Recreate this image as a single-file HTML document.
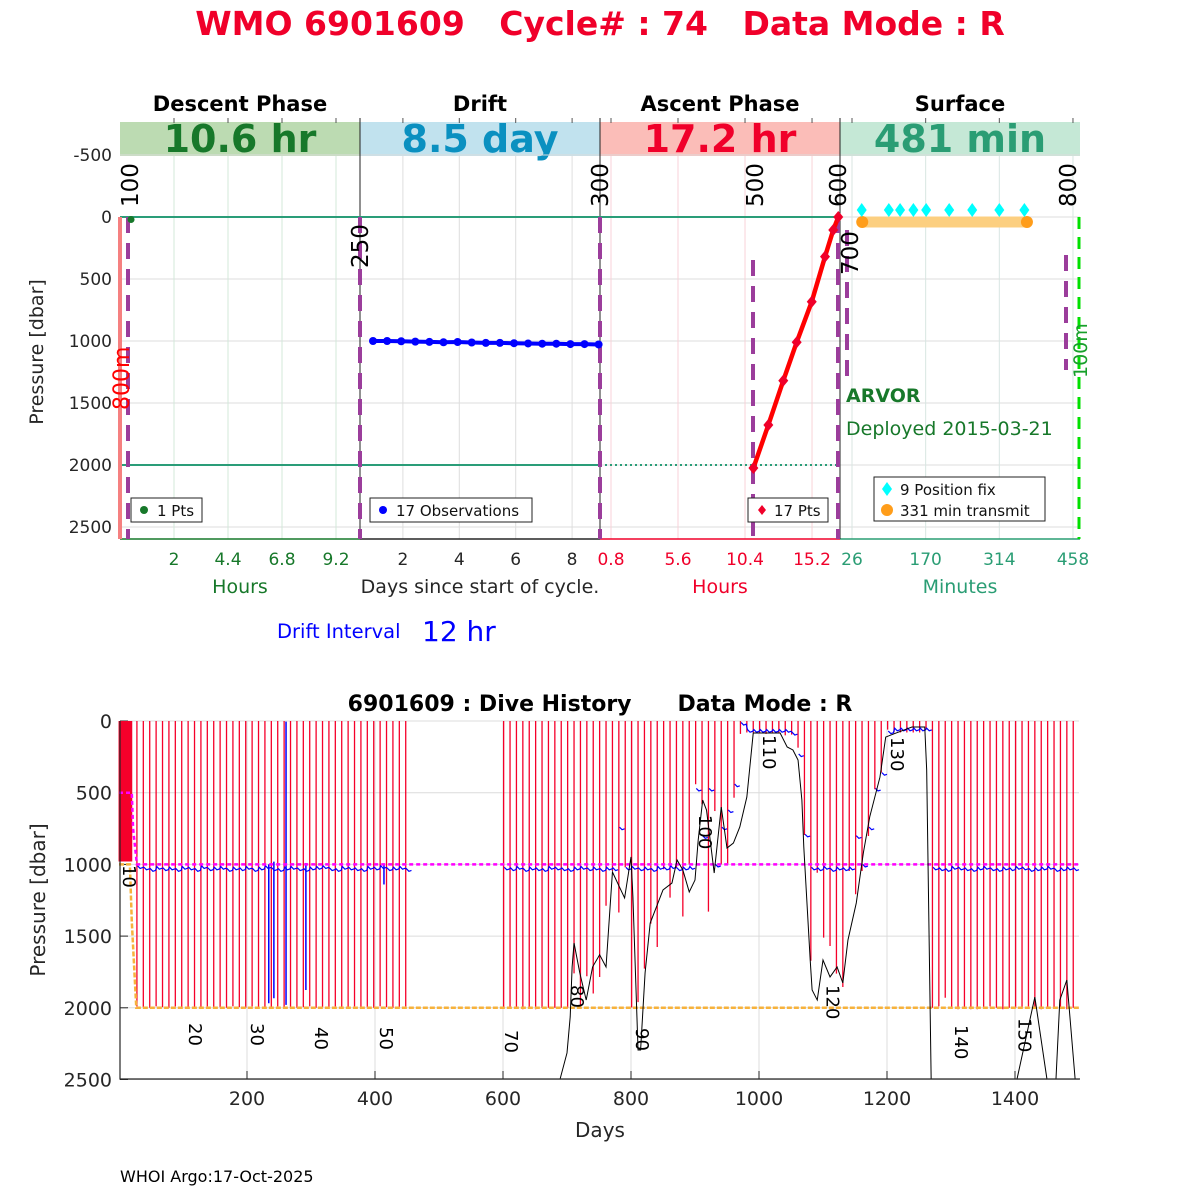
<!DOCTYPE html>
<html><head><meta charset="utf-8">
<style>
html,body{margin:0;padding:0;background:#fff;width:1200px;height:1200px;overflow:hidden}
svg{display:block;font-family:"DejaVu Sans","Liberation Sans",sans-serif}
text{white-space:pre}
</style></head>
<body>
<svg id="s" width="1200" height="1200" viewBox="0 0 1200 1200">
<rect x="0" y="0" width="1200" height="1200" fill="#fff"/>
<text x="600" y="35" text-anchor="middle" font-size="33" font-weight="bold" fill="#f0002a">WMO 6901609   Cycle# : 74   Data Mode : R</text>
<g id="topPanel"></g>
<g id="botPanel"></g>
<text x="120" y="1182" font-size="16" fill="#000">WHOI Argo:17-Oct-2025</text>
</svg>
<script>
// ---------- TOP PANEL DATA ----------
var yTicksTop = [-500, 0, 500, 1000, 1500, 2000, 2500];
var descentTicks = [2, 4.4, 6.8, 9.2];
var driftTicks = [2, 4, 6, 8];
var ascentTicks = [0.8, 5.6, 10.4, 15.2];
var surfaceTicks = [26, 170, 314, 458];
var descentHours = [0.09];
var descentPres = [20];
var driftDays = [0.94,1.44,1.94,2.44,2.94,3.44,3.94,4.44,4.94,5.44,5.94,6.44,6.94,7.44,7.94,8.44,8.94];
var driftPres = [1000,1000,1002,1005,1007,1010,1008,1012,1015,1015,1018,1020,1022,1022,1025,1025,1028];
var ascentHours = [11.0,12.07,13.14,14.10,15.18,16.13,16.72,17.08];
var ascentPres = [2024,1677,1320,1010,683,320,105,0];
var fixMinutes = [45,98,120,146,171,216,261,314,363];
var fixPres = [-56,-56,-56,-56,-56,-56,-56,-56,-56];
var transmitMinutes = [46,368];
var transmitPres = [40,40];

// ---------- BOTTOM PANEL DATA ----------
var xTicksBot = [200,400,600,800,1000,1200,1400];
var yTicksBot = [0,500,1000,1500,2000,2500];
var cycleDays = [1,3,5,7,9,11,13,15,17,19,
 28,38,48,58,68,78,88,98,108,118,128,138,148,158,168,178,188,198,208,218,228,238,248,258,268,278,288,298,308,318,328,338,348,358,368,378,388,398,408,418,428,438,448,
 601,611,621,631,641,651,661,671,681,691,701,711,721,731,741,751,761,771,781,791,801,811,821,831,841,851,861,871,881,891,901,911,921,931,941,951,961,971,981,991,1001,1011,1021,1031,1041,1051,1061,1071,1081,1091,1101,1111,1121,1131,1141,1151,1161,1171,1181,1191,1201,1211,1221,1231,1241,1251,1261,1271,1281,1291,1301,1311,1321,1331,1341,1351,1361,1371,1381,1391,1401,1411,1421,1431,1441,1451,1461,1471,1481,1491];
var profileBottom = [980,980,980,980,980,980,980,980,980,980,
 1990,1995,2000,1990,1995,2000,1990,1995,2000,2000,1995,1990,2000,1995,2000,1990,1995,2000,1990,2000,1995,2000,1990,1995,2000,2000,1995,1990,2000,1995,2000,1990,1995,2000,1990,2000,1995,2000,1990,1995,2000,1995,1990,
 2000,2000,2000,2010,2000,2010,2000,2000,2000,2000,2000,1760,1990,1780,1900,1785,1288,1046,1335,1020,1997,1960,1727,1413,1576,1034,1232,1025,1363,1000,441,581,1329,628,1000,1000,535,90,80,80,80,90,80,80,100,95,186,795,1672,1058,1511,1569,1762,1855,1046,1208,1046,802,476,360,60,80,80,80,80,80,60,2000,1990,1930,2000,2010,2000,2010,2010,2000,1990,2000,2010,2000,2000,2000,1990,2000,2010,2000,2000,2000,2010,2000];
var driftBot = [null,null,null,null,null,null,null,null,null,null,
 1010,1020,1030,1015,1025,1020,1030,1015,1020,1030,1010,1025,1020,1015,1030,1020,1025,1015,1030,1020,1010,1025,1030,1020,1015,1025,1030,1020,1015,1010,1025,1030,1015,1020,1025,1030,1015,1020,1010,1025,1020,1015,1030,
 1020,1025,1015,1030,1020,1025,1030,1015,1020,1025,1030,1020,1015,1025,1020,1030,1020,1025,740,1020,1015,1025,1020,1030,1015,1020,1010,1025,1020,1015,470,800,470,1000,740,620,440,10,60,60,60,60,60,60,60,80,230,790,1020,1025,1015,1030,1020,1025,1020,800,1000,740,470,360,70,50,50,50,50,50,50,1020,1025,1030,1015,1020,1025,1030,1020,1015,1025,1030,1020,1025,1015,1020,1030,1025,1020,1015,1030,1025,1020,1025,1020];
var spikeDays = [234,242,261,292,414];
var spikeTop = [1000,981,4,990,1000];
var spikeBottom = [1968,1933,1980,1876,1140];
var parkDay = [0,20,22,28,1500];
var parkPres = [500,500,750,1000,1000];
var profDay = [0,17,20,27,1500];
var profPres = [1000,1000,1400,2000,2000];
var bathyDays1 = [689,700,705,708,711,720,730,740,751,761,771,790,800,803,811,815,822,830,850,864,872,881,891,900,905,912,918,930,941,950,960,970,981,991,1033,1044,1053,1061,1067,1070,1080,1083,1091,1100,1111,1122,1131,1139,1152,1163,1173,1189,1198,1214,1239,1259,1262,1266,1269];
var bathyPres1 = [2500,2315,2063,1715,1548,1757,1946,1715,1630,1715,1053,1234,948,1227,2294,2294,1757,1409,1178,1130,969,1039,1192,1109,830,551,621,1060,600,886,851,739,530,84,84,181,202,272,551,879,1667,1876,1946,1667,1785,1715,1827,1527,1269,921,669,391,112,84,42,42,342,1576,2500];
var bathyDays2 = [1403,1431,1450];
var bathyPres2 = [2500,1925,2500];
var bathyDays3 = [1464,1470,1481,1494];
var bathyPres3 = [2500,1946,1806,2500];
var labelCycles = [10,20,30,40,50,70,80,90,100,110,120,130,140,150];
var labelDays = [17,120,217,317,419,614,717,819,917,1017,1116,1217,1317,1416];
var labelPres = [1004,2106,2106,2134,2134,2155,1841,2141,655,98,1841,112,2120,2071];

var NS = "http://www.w3.org/2000/svg";
function mk(parent, tag, attrs, txt){
  var e = document.createElementNS(NS, tag);
  for (var k in attrs) e.setAttribute(k, attrs[k]);
  if (txt !== undefined) e.textContent = txt;
  parent.appendChild(e);
  return e;
}
var topG = document.getElementById('topPanel');
var botG = document.getElementById('botPanel');

function yT(p){ return 217 + p*0.124; }
function xDesc(h){ return 129 + h*22.5; }
function xDrift(d){ return 346.5 + d*28.2; }
function xAsc(h){ return 611 + (h-0.8)*13.96; }
function xSurf(m){ return 852 + (m-26)/1.955; }

var el;
var heads = [[120,'#bcdbb2','10.6 hr','#17782a','Descent Phase','descent'],[360,'#c1e2ee','8.5 day','#0a90c0','Drift','drift'],[600,'#fbbdb8','17.2 hr','#f0002a','Ascent Phase','ascent'],[840,'#c5e8d6','481 min','#2a9d74','Surface','surface']];
heads.forEach(function(h){
  el = mk(topG,'rect',{x:h[0],y:122,width:240,height:34,fill:h[1]});
  
  
  el = mk(topG,'text',{x:h[0]+120,y:152,'text-anchor':'middle','font-size':38,'font-weight':'bold',fill:h[3]},h[2]);
  
  
  el = mk(topG,'text',{x:h[0]+120,y:111,'text-anchor':'middle','font-size':21,'font-weight':'bold',fill:'#000'},h[4]);
  
  
});
yTicksTop.forEach(function(t){
  el = mk(topG,'line',{x1:120,x2:1080,y1:yT(t),y2:yT(t),stroke:'#dcdcdc','stroke-width':1});
  
  
  el = mk(topG,'text',{x:112,y:yT(t)+6,'text-anchor':'end','font-size':17,fill:'#262626'},String(t));
  
  
});
function vgrid(ticks, fx, gcol, tcol, nm){
  ticks.forEach(function(t){
    var x = fx(t);
    el = mk(topG,'line',{x1:x,x2:x,y1:156,y2:539,stroke:gcol,'stroke-width':1});
    
    
    el = mk(topG,'line',{x1:x,x2:x,y1:118,y2:123,stroke:'#555','stroke-width':1});
    
    
    el = mk(topG,'text',{x:x,y:565,'text-anchor':'middle','font-size':17,fill:tcol},String(t));
    
    
  });
}
vgrid(descentTicks, xDesc, '#d3e8da', '#17782a', 'descent');
vgrid(driftTicks, xDrift, '#dedede', '#262626', 'drift');
vgrid(ascentTicks, xAsc, '#f8d2d8', '#f0002a', 'ascent');
vgrid(surfaceTicks, xSurf, '#d8e6e2', '#2a9d74', 'surface');
[[120,'#17782a'],[360,'#262626'],[600,'#f0002a'],[840,'#2a9d74']].forEach(function(s){
  el = mk(topG,'line',{x1:s[0],x2:s[0]+240,y1:539,y2:539,stroke:s[1],'stroke-width':1.5});
  
  
});
[360,600,840].forEach(function(x){
  el = mk(topG,'line',{x1:x,x2:x,y1:118,y2:539,stroke:'#222','stroke-width':1});
  
  
});
el = mk(topG,'line',{x1:120,x2:840,y1:yT(0),y2:yT(0),stroke:'#2a9d78','stroke-width':2});


el = mk(topG,'line',{x1:120,x2:600,y1:yT(2000),y2:yT(2000),stroke:'#2a9d78','stroke-width':2});


el = mk(topG,'line',{x1:600,x2:840,y1:yT(2000),y2:yT(2000),stroke:'#2a9d78','stroke-width':2,'stroke-dasharray':'2,3'});


el = mk(topG,'line',{x1:120,x2:120,y1:217,y2:539,stroke:'#f58080','stroke-width':4});


el = mk(topG,'line',{x1:1079,x2:1079,y1:217,y2:539,stroke:'#00e000','stroke-width':3,'stroke-dasharray':'12,8'});


[[128,217,539],[360,217,539],[600,217,539],[753,260,539],[838,217,539],[847,230,380],[1066,255,370]].forEach(function(d){
  el = mk(topG,'line',{x1:d[0],x2:d[0],y1:d[1],y2:d[2],stroke:'#9b3d9b','stroke-width':4,'stroke-dasharray':'16,10'});
  
  
});
[['100',138,207],['250',368,268],['300',608,207],['500',763,207],['600',846,207],['700',858,275],['800',1076,207]].forEach(function(r){
  el = mk(topG,'text',{x:r[1],y:r[2],'font-size':23,fill:'#000',transform:'rotate(-90 '+r[1]+' '+r[2]+')'},r[0]);
  
  
});
el = mk(topG,'text',{x:129,y:410,'font-size':22,fill:'#ff0000',transform:'rotate(-90 129 410)'},'800m');


el = mk(topG,'text',{x:1087,y:378,'font-size':19,fill:'#17a02a',transform:'rotate(-90 1087 378)'},'100m');



descentHours.forEach(function(h,i){
  el = mk(topG,'circle',{cx:xDesc(h),cy:yT(descentPres[i]),r:3.5,fill:'#17782a'});
  
  
});
var dp = driftDays.map(function(d,i){return xDrift(d)+','+yT(driftPres[i]);}).join(' ');
el = mk(topG,'polyline',{points:dp,fill:'none',stroke:'#0000ff','stroke-width':4});


driftDays.forEach(function(d,i){
  el = mk(topG,'circle',{cx:xDrift(d),cy:yT(driftPres[i]),r:4,fill:'#0000ff'});
  
  
});
var ap = ascentHours.map(function(h,i){return xAsc(h)+','+yT(ascentPres[i]);}).join(' ');
el = mk(topG,'polyline',{points:ap,fill:'none',stroke:'#ff0000','stroke-width':4.5});


ascentHours.forEach(function(h,i){
  var x = xAsc(h), y = yT(ascentPres[i]);
  el = mk(topG,'path',{d:'M'+x+' '+(y-6)+'L'+(x+5)+' '+y+'L'+x+' '+(y+6)+'L'+(x-5)+' '+y+'Z',fill:'#f0002a'});
  
  
});
el = mk(topG,'line',{x1:xSurf(transmitMinutes[0]),x2:xSurf(transmitMinutes[1]),y1:yT(transmitPres[0]),y2:yT(transmitPres[1]),stroke:'#fccf80','stroke-width':11});


transmitMinutes.forEach(function(m,i){
  el = mk(topG,'circle',{cx:xSurf(m),cy:yT(transmitPres[i]),r:6,fill:'#ff9d1a'});
  
  
});
fixMinutes.forEach(function(m,i){
  var x = xSurf(m), y = yT(fixPres[i]);
  el = mk(topG,'path',{d:'M'+x+' '+(y-7)+'L'+(x+5)+' '+y+'L'+x+' '+(y+7)+'L'+(x-5)+' '+y+'Z',fill:'#00ffff'});
  
  
});
function legBox(x,y,w,h,nm){
  el = mk(topG,'rect',{x:x,y:y,width:w,height:h,fill:'#fff',stroke:'#222','stroke-width':1});
  
  
}
legBox(131,498,71,24,'descent-legend');
el = mk(topG,'circle',{cx:144,cy:510,r:4,fill:'#17782a'});  
el = mk(topG,'text',{x:157,y:516,'font-size':15,fill:'#111'},'1 Pts');  
legBox(370,498,162,24,'drift-legend');
el = mk(topG,'circle',{cx:383,cy:510,r:4,fill:'#0000ff'});  
el = mk(topG,'text',{x:396,y:516,'font-size':15,fill:'#111'},'17 Observations');  
legBox(748,498,80,24,'ascent-legend');
el = mk(topG,'path',{d:'M762 505L766 510L762 515L758 510Z',fill:'#f0002a'});  
el = mk(topG,'text',{x:774,y:516,'font-size':15,fill:'#111'},'17 Pts');  
legBox(874,477,171,44,'surface-legend');
el = mk(topG,'path',{d:'M887 482L892 489L887 496L882 489Z',fill:'#00ffff'});  
el = mk(topG,'text',{x:900,y:495,'font-size':15,fill:'#111'},'9 Position fix');  
el = mk(topG,'circle',{cx:887,cy:510,r:6,fill:'#ff9d1a'});  
el = mk(topG,'text',{x:900,y:516,'font-size':15,fill:'#111'},'331 min transmit');  
el = mk(topG,'text',{x:846,y:402,'font-size':19,'font-weight':'bold',fill:'#17782a'},'ARVOR');  
el = mk(topG,'text',{x:846,y:435,'font-size':19,fill:'#17782a'},'Deployed 2015-03-21');  
el = mk(topG,'text',{x:43,y:352,'font-size':19,fill:'#262626','text-anchor':'middle',transform:'rotate(-90 43 352)'},'Pressure [dbar]');  
el = mk(topG,'text',{x:240,y:593,'font-size':19,fill:'#17782a','text-anchor':'middle'},'Hours');  
el = mk(topG,'text',{x:480,y:593,'font-size':19,fill:'#262626','text-anchor':'middle'},'Days since start of cycle.');  
el = mk(topG,'text',{x:720,y:593,'font-size':19,fill:'#f0002a','text-anchor':'middle'},'Hours');  
el = mk(topG,'text',{x:960,y:593,'font-size':19,fill:'#2a9d74','text-anchor':'middle'},'Minutes');  
el = mk(topG,'text',{x:277,y:638,'font-size':19.5,fill:'#0000ff'},'Drift Interval');  
el = mk(topG,'text',{x:422,y:641,'font-size':28,fill:'#0000ff'},'12 hr');  

// ---------- BOTTOM PANEL ----------
function xB(d){ return 119 + d*0.64; }
function yB(p){ return 721 + p*0.1434; }
xTicksBot.forEach(function(t){
  el = mk(botG,'line',{x1:xB(t),x2:xB(t),y1:721,y2:1079,stroke:'#dcdcdc','stroke-width':1});
   
  el = mk(botG,'line',{x1:xB(t),x2:xB(t),y1:1071,y2:1079,stroke:'#262626','stroke-width':1});
   
  el = mk(botG,'text',{x:xB(t),y:1105,'text-anchor':'middle','font-size':19,fill:'#262626'},String(t));
   
});
yTicksBot.forEach(function(t){
  el = mk(botG,'line',{x1:120,x2:1079,y1:yB(t),y2:yB(t),stroke:'#dcdcdc','stroke-width':1});
   
  el = mk(botG,'line',{x1:120,x2:128,y1:yB(t),y2:yB(t),stroke:'#262626','stroke-width':1});
   
  el = mk(botG,'text',{x:112,y:yB(t)+7,'text-anchor':'end','font-size':19,fill:'#262626'},String(t));
   
});
cycleDays.forEach(function(d,i){
  el = mk(botG,'line',{x1:xB(d),x2:xB(d),y1:yB(0),y2:yB(profileBottom[i]),stroke:'#f5002a','stroke-width':i<10?2.2:1.3});
   
});
var seg = [], segs = [], prev = null;
cycleDays.forEach(function(d,i){
  var v = driftBot[i];
  if (v === null){ if(seg.length) segs.push(seg); seg=[]; prev=null; return; }
  if (seg.length && (cycleDays[i]-cycleDays[i-1] > 30 || Math.abs(v-prev) > 60)){ segs.push(seg); seg=[]; }
  seg.push([xB(d+1), yB(v)]); seg.push([xB(d+5), yB(v+18)]); seg.push([xB(d+9), yB(v+12)]);
  prev = v;
});
if(seg.length) segs.push(seg);
segs.forEach(function(s){
  el = mk(botG,'polyline',{points:s.map(function(p){return p.join(',');}).join(' '),fill:'none',stroke:'#0000ff','stroke-width':1.2});
   
});
spikeDays.forEach(function(d,i){
  el = mk(botG,'line',{x1:xB(d),x2:xB(d),y1:yB(spikeTop[i]),y2:yB(spikeBottom[i]),stroke:'#0000ff','stroke-width':1.5});
   
});
el = mk(botG,'polyline',{points:profDay.map(function(d,i){return xB(d)+','+yB(profPres[i]);}).join(' '),fill:'none',stroke:'#f7b23b','stroke-width':2.5,'stroke-dasharray':'5,2'});
 
el = mk(botG,'polyline',{points:parkDay.map(function(d,i){return xB(d)+','+yB(parkPres[i]);}).join(' '),fill:'none',stroke:'#ff00ff','stroke-width':2.5,'stroke-dasharray':'4,3'});
 
[[bathyDays1,bathyPres1],[bathyDays2,bathyPres2],[bathyDays3,bathyPres3]].forEach(function(b){
  el = mk(botG,'polyline',{points:b[0].map(function(d,i){return xB(d)+','+yB(b[1][i]);}).join(' '),fill:'none',stroke:'#000','stroke-width':1});
   
});
labelCycles.forEach(function(c,i){
  var x = xB(labelDays[i]) - 7, y = yB(labelPres[i]);
  el = mk(botG,'text',{x:x,y:y,'font-size':18,fill:'#000',transform:'rotate(90 '+x+' '+y+')'},String(c));
   
});
el = mk(botG,'path',{d:'M120 721V1079H1080',fill:'none',stroke:'#262626','stroke-width':1.2});
 
el = mk(botG,'text',{x:600,y:711,'text-anchor':'middle','font-size':22,'font-weight':'bold',fill:'#000'},'6901609 : Dive History      Data Mode : R');
 
el = mk(botG,'text',{x:600,y:1137,'text-anchor':'middle','font-size':20,fill:'#262626'},'Days');
 
el = mk(botG,'text',{x:45,y:900,'text-anchor':'middle','font-size':20,fill:'#262626',transform:'rotate(-90 45 900)'},'Pressure [dbar]');
 
</script>
</body></html>
